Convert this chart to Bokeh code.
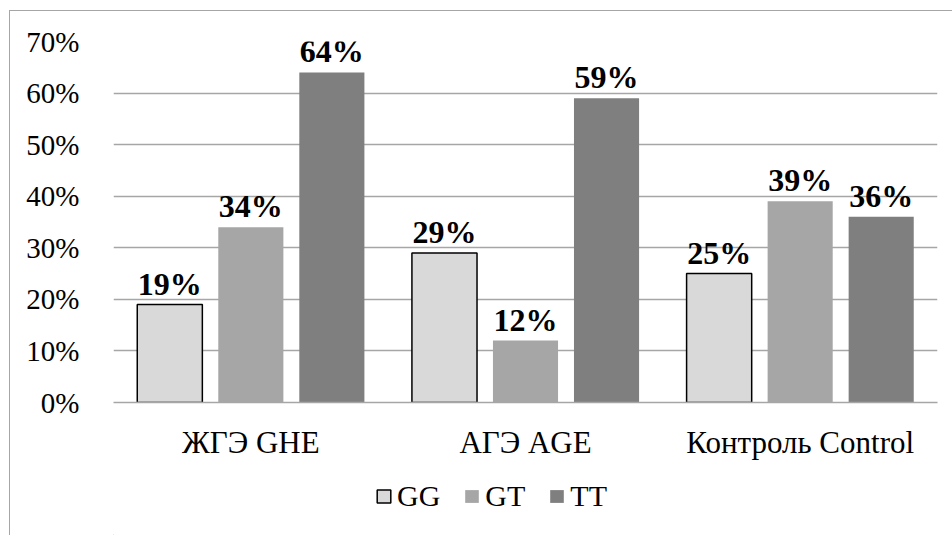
from bokeh.plotting import figure
from bokeh.layouts import column
from bokeh.models import (ColumnDataSource, FactorRange, Legend, LegendItem,
                          NumeralTickFormatter, FixedTicker)
from bokeh.core.properties import value
from bokeh.transform import dodge
from bokeh.embed import file_html
from bokeh.resources import INLINE

groups = ["ЖГЭ GHE", "АГЭ AGE", "Контроль Control"]
genotypes = ["GG", "GT", "TT"]
gg = [0.19, 0.29, 0.25]
gt = [0.34, 0.12, 0.39]
tt = [0.64, 0.59, 0.36]
y_ticks = [0.0, 0.1, 0.2, 0.3, 0.4, 0.5, 0.6, 0.7]

colors = {"GG": "#d9d9d9", "GT": "#a6a6a6", "TT": "#7f7f7f"}
outlines = {"GG": "#000000", "GT": None, "TT": None}
offsets = {"GG": -0.295, "GT": 0.0, "TT": 0.295}
FONT = "Liberation Serif"

source = ColumnDataSource(data=dict(group=groups, GG=gg, GT=gt, TT=tt,
                                    GG_lbl=[f"{v:.0%}" for v in gg],
                                    GT_lbl=[f"{v:.0%}" for v in gt],
                                    TT_lbl=[f"{v:.0%}" for v in tt]))

# main bar chart
p = figure(x_range=FactorRange(*groups, range_padding=0), y_range=(0, 0.7),
           width=942, height=459, output_backend="svg", toolbar_location=None,
           min_border_left=103, min_border_right=15, min_border_top=30, min_border_bottom=68)
p.outline_line_color = None

for g in genotypes:
    p.vbar(x=dodge("group", offsets[g], range=p.x_range), top=g, width=0.237, source=source,
           fill_color=colors[g], line_color=outlines[g], line_width=1.5 if outlines[g] else 0)
    p.text(x=dodge("group", offsets[g], range=p.x_range), y=g, text=g + "_lbl", source=source,
           text_align="center", text_baseline="bottom", y_offset=-3,
           text_font=value(FONT), text_font_style="bold", text_font_size="32px", text_color="#000000")

p.xgrid.grid_line_color = None
p.ygrid.grid_line_color = "#a6a6a6"
p.ygrid.grid_line_width = 1.5
p.yaxis.ticker = FixedTicker(ticks=y_ticks)
p.yaxis.formatter = NumeralTickFormatter(format="0%")
p.yaxis.axis_line_color = None
p.yaxis.major_tick_line_color = None
p.yaxis.minor_tick_line_color = None
p.yaxis.major_label_standoff = 28
p.xaxis.axis_line_color = "#a6a6a6"
p.xaxis.axis_line_width = 1.5
p.xaxis.major_tick_line_color = None
p.xaxis.major_label_standoff = 16
for ax in (p.xaxis, p.yaxis):
    ax.major_label_text_font = FONT
    ax.major_label_text_color = "#000000"
p.yaxis.major_label_text_font_size = "29px"
p.xaxis.major_label_text_font_size = "31px"

# legend row underneath
lf = figure(width=942, height=65, output_backend="svg", toolbar_location=None,
            x_range=(0, 1), y_range=(0, 1),
            min_border_left=0, min_border_right=0, min_border_top=0, min_border_bottom=0)
lf.axis.visible = False
lf.grid.visible = False
lf.outline_line_color = None

# one bar per genotype, kept outside the visible range, to carry the legend swatches
swatch = ColumnDataSource(data=dict(x=[-50.0], top=[-50.0]))
items = []
for g in genotypes:
    r = lf.vbar(x="x", top="top", bottom=-60.0, width=0.1, source=swatch,
                fill_color=colors[g], line_color=outlines[g], line_width=1.5 if outlines[g] else 0)
    items.append(LegendItem(label=g, renderers=[r]))

legend = Legend(items=items, orientation="horizontal", location=(262, 22),
                label_text_font=FONT, label_text_font_size="30px", label_text_color="#000000",
                glyph_width=17, glyph_height=16, spacing=23, label_standoff=5,
                border_line_color=None, background_fill_alpha=0, margin=0, padding=0)
lf.add_layout(legend, "center")

layout = column(p, lf, spacing=0)
layout.margin = (10, 0, 0, 9)
layout.styles = {"border-top": "1px solid #a6a6a6", "border-left": "1px solid #a6a6a6"}

open("out.html", "w").write(file_html(layout, INLINE))
